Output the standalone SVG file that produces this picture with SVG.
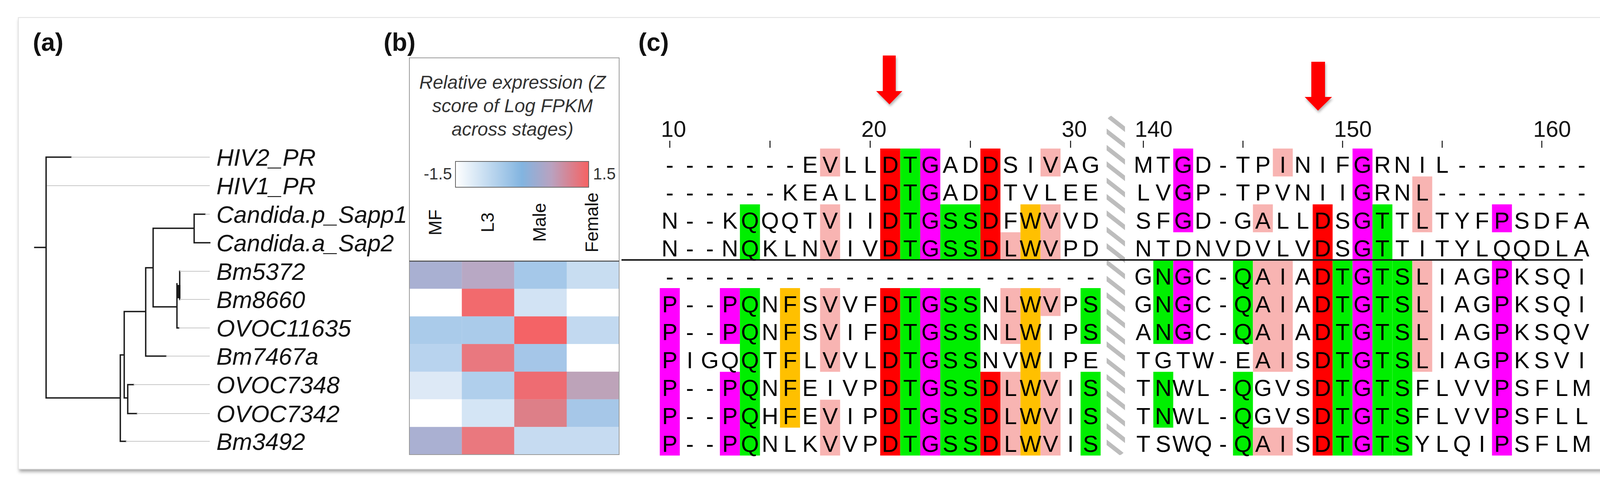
<svg xmlns="http://www.w3.org/2000/svg" width="4173" height="1251" viewBox="0 0 4173 1251">
<defs>
<style>
text{font-family:"Liberation Sans",Arial,sans-serif}
.pl{font-size:64px;font-weight:bold;fill:#111}
.tl{font-size:61px;font-style:italic;fill:#111}
.aa{font-size:59px;text-anchor:middle;fill:#000}
.num{font-size:58px;fill:#111}
.lg{font-size:48px;font-style:italic;fill:#333;text-anchor:middle}
.cb{font-size:42px;fill:#333}
.col{font-size:46px;fill:#111;text-anchor:middle}
.br{stroke:#1a1a1a;stroke-width:3.5;fill:none;stroke-linecap:square}
.gr{stroke:#c8c8c8;stroke-width:2;fill:none}
.tk{stroke:#111;stroke-width:2.5}
.R{fill:#ff0000}.G{fill:#00ef00}.M{fill:#ff00ff}.P{fill:#f8b4b2}.O{fill:#ffc000}
</style>
<filter id="sh" x="-5%" y="-5%" width="110%" height="112%">
<feDropShadow dx="3" dy="6" stdDeviation="4" flood-color="#000" flood-opacity="0.35"/>
</filter>
<filter id="ash" x="-40%" y="-20%" width="180%" height="160%">
<feDropShadow dx="2" dy="5" stdDeviation="3" flood-color="#000" flood-opacity="0.3"/>
</filter>
<linearGradient id="zg" x1="0" y1="0" x2="1" y2="0">
<stop offset="0" stop-color="#ffffff"/>
<stop offset="0.5" stop-color="#82b4e0"/>
<stop offset="0.72" stop-color="#b9a2c0"/>
<stop offset="1" stop-color="#f66262"/>
</linearGradient>
<pattern id="hatch" patternUnits="userSpaceOnUse" width="60" height="33" patternTransform="rotate(38)">
<rect x="0" y="0" width="60" height="11" fill="#bdbdbd"/>
</pattern>
</defs>

<rect x="0" y="0" width="4173" height="1251" fill="#ffffff"/>
<rect x="47" y="45" width="4080" height="1155" fill="#ffffff" stroke="#e2e2e2" stroke-width="2" filter="url(#sh)"/>

<g id="panel-labels">
<text class="pl" x="84" y="130">(a)</text>
<text class="pl" x="982" y="130">(b)</text>
<text class="pl" x="1634" y="130">(c)</text>
</g>

<g id="tree-connectors">
<path class="br" d="M89,633H118M118,402V1018M118,402H182M118,1018H308M308,908V1129M308,1129H322M308,908H318M318,797V1018M318,1018H327M327,984V1058M327,984H342M327,1058H350M318,797H373M373,685V911M373,911H425M373,685H392M392,584V785M392,584H497M497,548V621M497,548H525M497,621H537M392,785H453M453,726V839M453,839H458M460,694V766"/>
<rect x="453" y="729" width="9" height="34" fill="#1a1a1a"/>
<path class="gr" d="M182,402H537M120,475H537M525,548H537M460,694H537M460,766H537M458,839H537M425,911H537M342,984H537M350,1058H537M322,1129H537"/>
</g>

<g id="tree-labels">
<g id="t-HIV2_PR"><text class="tl" x="554" y="424">HIV2_PR</text></g>
<g id="t-HIV1_PR"><text class="tl" x="554" y="497">HIV1_PR</text></g>
<g id="t-Candida-p"><text class="tl" x="554" y="570">Candida.p_Sapp1</text></g>
<g id="t-Candida-a"><text class="tl" x="554" y="643">Candida.a_Sap2</text></g>
<g id="t-Bm5372"><text class="tl" x="554" y="716">Bm5372</text></g>
<g id="t-Bm8660"><text class="tl" x="554" y="788">Bm8660</text></g>
<g id="t-OVOC11635"><text class="tl" x="554" y="861">OVOC11635</text></g>
<g id="t-Bm7467a"><text class="tl" x="554" y="933">Bm7467a</text></g>
<g id="t-OVOC7348"><text class="tl" x="554" y="1006">OVOC7348</text></g>
<g id="t-OVOC7342"><text class="tl" x="554" y="1080">OVOC7342</text></g>
<g id="t-Bm3492"><text class="tl" x="554" y="1151">Bm3492</text></g>
</g>

<g id="heatmap">
<g id="heatmap-legend">
<text class="lg" x="1312" y="227">Relative expression (Z</text>
<text class="lg" x="1312" y="287">score of Log FPKM</text>
<text class="lg" x="1312" y="347">across stages)</text>
<rect x="1166" y="413" width="341" height="66" fill="url(#zg)" stroke="#666" stroke-width="2"/>
<text class="cb" x="1157" y="459" text-anchor="end">-1.5</text>
<text class="cb" x="1518" y="459">1.5</text>
<text class="col" transform="translate(1130,569) rotate(-90)">MF</text>
<text class="col" transform="translate(1264,569) rotate(-90)">L3</text>
<text class="col" transform="translate(1397,569) rotate(-90)">Male</text>
<text class="col" transform="translate(1531,569) rotate(-90)">Female</text>
</g>
<g id="heatmap-cells">
<rect x="1048" y="668" width="134.5" height="71" fill="#a9b0d2"/>
<rect x="1182.25" y="668" width="134.5" height="71" fill="#b8a8c4"/>
<rect x="1316.5" y="668" width="134.5" height="71" fill="#a5c8e9"/>
<rect x="1450.75" y="668" width="134.25" height="71" fill="#c8ddf1"/>
<rect x="1048" y="738.7" width="134.5" height="71" fill="#ffffff"/>
<rect x="1182.25" y="738.7" width="134.5" height="71" fill="#f26a6d"/>
<rect x="1316.5" y="738.7" width="134.5" height="71" fill="#d2e3f4"/>
<rect x="1450.75" y="738.7" width="134.25" height="71" fill="#ffffff"/>
<rect x="1048" y="809.4" width="134.5" height="71" fill="#aacbea"/>
<rect x="1182.25" y="809.4" width="134.5" height="71" fill="#aacbea"/>
<rect x="1316.5" y="809.4" width="134.5" height="71" fill="#f46366"/>
<rect x="1450.75" y="809.4" width="134.25" height="71" fill="#c2d9f0"/>
<rect x="1048" y="880.1" width="134.5" height="71" fill="#b8d3ee"/>
<rect x="1182.25" y="880.1" width="134.5" height="71" fill="#e9787f"/>
<rect x="1316.5" y="880.1" width="134.5" height="71" fill="#a5c6e8"/>
<rect x="1450.75" y="880.1" width="134.25" height="71" fill="#ffffff"/>
<rect x="1048" y="950.8" width="134.5" height="71" fill="#dde9f6"/>
<rect x="1182.25" y="950.8" width="134.5" height="71" fill="#b0cfec"/>
<rect x="1316.5" y="950.8" width="134.5" height="71" fill="#ee6c72"/>
<rect x="1450.75" y="950.8" width="134.25" height="71" fill="#bda3b9"/>
<rect x="1048" y="1021.5" width="134.5" height="71" fill="#ffffff"/>
<rect x="1182.25" y="1021.5" width="134.5" height="71" fill="#d4e5f5"/>
<rect x="1316.5" y="1021.5" width="134.5" height="71" fill="#dd7f88"/>
<rect x="1450.75" y="1021.5" width="134.25" height="71" fill="#a6c7e8"/>
<rect x="1048" y="1092.2" width="134.5" height="70.7" fill="#aab0d2"/>
<rect x="1182.25" y="1092.2" width="134.5" height="70.7" fill="#ea787e"/>
<rect x="1316.5" y="1092.2" width="134.5" height="70.7" fill="#c6dbf1"/>
<rect x="1450.75" y="1092.2" width="134.25" height="70.7" fill="#c6dbf1"/>
</g>
<rect x="1048" y="148" width="537" height="1015" fill="none" stroke="#9a9a9a" stroke-width="2"/>
<line x1="1048" y1="668" x2="1585" y2="668" stroke="#444" stroke-width="2.5"/>
</g>

<g id="alignment">
<g id="arrows" filter="url(#ash)">
<path d="M2260,142H2293V233H2310L2277,267L2243,233H2260Z" fill="#ff0000"/>
<path d="M3357,158H3392V248H3410L3374,283L3340,248H3357Z" fill="#ff0000"/>
</g>
<g id="positions">
<text class="num" x="1692" y="350">10</text>
<text class="num" x="2205" y="350">20</text>
<text class="num" x="2718" y="350">30</text>
<text class="num" x="2905" y="350">140</text>
<text class="num" x="3415" y="350">150</text>
<text class="num" x="3925" y="350">160</text>
<path class="tk" d="M1714.7,360V378M1971.2,360V378M2227.7,360V378M2484.2,360V378M2740.7,360V378M2927,360V378M3182,360V378M3437,360V378M3692,360V378M3947,360V378"/>
</g>
<g id="hatched-gap">
<rect x="2833" y="295" width="47" height="870" rx="18" fill="url(#hatch)"/>
</g>
<g id="highlights-left">
<rect class="M" x="1689" y="737" width="51.3" height="428.4"/>
<rect class="M" x="1842.9" y="737" width="51.3" height="142.8"/>
<rect class="M" x="1842.9" y="951.2" width="51.3" height="214.2"/>
<rect class="G" x="1894.2" y="522.8" width="51.3" height="142.8"/>
<rect class="G" x="1894.2" y="737" width="51.3" height="428.4"/>
<rect class="O" x="1996.8" y="737" width="51.3" height="357"/>
<rect class="P" x="2099.4" y="380" width="51.3" height="71.4"/>
<rect class="P" x="2099.4" y="522.8" width="51.3" height="142.8"/>
<rect class="P" x="2099.4" y="737" width="51.3" height="214.2"/>
<rect class="P" x="2099.4" y="1022.6" width="51.3" height="142.8"/>
<rect class="R" x="2253.3" y="380" width="51.3" height="285.6"/>
<rect class="R" x="2253.3" y="737" width="51.3" height="428.4"/>
<rect class="G" x="2304.6" y="380" width="51.3" height="285.6"/>
<rect class="G" x="2304.6" y="737" width="51.3" height="428.4"/>
<rect class="M" x="2355.9" y="380" width="51.3" height="285.6"/>
<rect class="M" x="2355.9" y="737" width="51.3" height="428.4"/>
<rect class="G" x="2407.2" y="522.8" width="102.6" height="142.8"/>
<rect class="G" x="2407.2" y="737" width="102.6" height="428.4"/>
<rect class="R" x="2509.8" y="380" width="51.3" height="285.6"/>
<rect class="R" x="2509.8" y="951.2" width="51.3" height="214.2"/>
<rect class="P" x="2561.1" y="594.2" width="51.3" height="71.4"/>
<rect class="P" x="2561.1" y="737" width="51.3" height="142.8"/>
<rect class="P" x="2561.1" y="951.2" width="51.3" height="214.2"/>
<rect class="O" x="2612.4" y="522.8" width="51.3" height="142.8"/>
<rect class="O" x="2612.4" y="737" width="51.3" height="428.4"/>
<rect class="P" x="2663.7" y="380" width="51.3" height="71.4"/>
<rect class="P" x="2663.7" y="522.8" width="51.3" height="142.8"/>
<rect class="P" x="2663.7" y="737" width="51.3" height="71.4"/>
<rect class="P" x="2663.7" y="951.2" width="51.3" height="214.2"/>
<rect class="G" x="2766.3" y="737" width="51.3" height="142.8"/>
<rect class="G" x="2766.3" y="951.2" width="51.3" height="214.2"/>
</g>
<g id="highlights-right">
<rect class="G" x="2952.5" y="665.6" width="51" height="214.2"/>
<rect class="G" x="2952.5" y="951.2" width="51" height="142.8"/>
<rect class="M" x="3003.5" y="380" width="51" height="214.2"/>
<rect class="M" x="3003.5" y="665.6" width="51" height="214.2"/>
<rect class="G" x="3156.5" y="665.6" width="51" height="214.2"/>
<rect class="G" x="3156.5" y="951.2" width="51" height="214.2"/>
<rect class="P" x="3207.5" y="522.8" width="51" height="71.4"/>
<rect class="P" x="3258.5" y="380" width="51" height="71.4"/>
<rect class="P" x="3207.5" y="665.6" width="102" height="285.6"/>
<rect class="P" x="3207.5" y="1094" width="102" height="71.4"/>
<rect class="R" x="3360.5" y="522.8" width="51" height="642.6"/>
<rect class="G" x="3411.5" y="665.6" width="51" height="499.8"/>
<rect class="M" x="3462.5" y="380" width="51" height="785.4"/>
<rect class="G" x="3513.5" y="522.8" width="51" height="642.6"/>
<rect class="G" x="3564.5" y="665.6" width="51" height="499.8"/>
<rect class="P" x="3615.5" y="451.4" width="51" height="142.8"/>
<rect class="P" x="3615.5" y="665.6" width="51" height="285.6"/>
<rect class="M" x="3819.5" y="522.8" width="51" height="71.4"/>
<rect class="M" x="3819.5" y="665.6" width="51" height="499.8"/>
</g>
<line id="group-separator" x1="1591" y1="665" x2="4052" y2="665" stroke="#1a1a1a" stroke-width="4"/>
<g id="sequences-left">
<text class="aa" y="442" x="1714.7 1766 1817.3 1868.6 1919.9 1971.2 2022.5 2073.8 2125.1 2176.4 2227.7 2279 2330.3 2381.6 2432.9 2484.2 2535.5 2586.8 2638.1 2689.4 2740.7 2792">-------EVLLDTGADDSIVAG</text>
<text class="aa" y="513.4" x="1714.7 1766 1817.3 1868.6 1919.9 1971.2 2022.5 2073.8 2125.1 2176.4 2227.7 2279 2330.3 2381.6 2432.9 2484.2 2535.5 2586.8 2638.1 2689.4 2740.7 2792">------KEALLDTGADDTVLEE</text>
<text class="aa" y="584.8" x="1714.7 1766 1817.3 1868.6 1919.9 1971.2 2022.5 2073.8 2125.1 2176.4 2227.7 2279 2330.3 2381.6 2432.9 2484.2 2535.5 2586.8 2638.1 2689.4 2740.7 2792">N--KQQQTVIIDTGSSDFWVVD</text>
<text class="aa" y="656.2" x="1714.7 1766 1817.3 1868.6 1919.9 1971.2 2022.5 2073.8 2125.1 2176.4 2227.7 2279 2330.3 2381.6 2432.9 2484.2 2535.5 2586.8 2638.1 2689.4 2740.7 2792">N--NQKLNVIVDTGSSDLWVPD</text>
<text class="aa" y="727.6" x="1714.7 1766 1817.3 1868.6 1919.9 1971.2 2022.5 2073.8 2125.1 2176.4 2227.7 2279 2330.3 2381.6 2432.9 2484.2 2535.5 2586.8 2638.1 2689.4 2740.7 2792">----------------------</text>
<text class="aa" y="799" x="1714.7 1766 1817.3 1868.6 1919.9 1971.2 2022.5 2073.8 2125.1 2176.4 2227.7 2279 2330.3 2381.6 2432.9 2484.2 2535.5 2586.8 2638.1 2689.4 2740.7 2792">P--PQNFSVVFDTGSSNLWVPS</text>
<text class="aa" y="870.4" x="1714.7 1766 1817.3 1868.6 1919.9 1971.2 2022.5 2073.8 2125.1 2176.4 2227.7 2279 2330.3 2381.6 2432.9 2484.2 2535.5 2586.8 2638.1 2689.4 2740.7 2792">P--PQNFSVIFDTGSSNLWIPS</text>
<text class="aa" y="941.8" x="1714.7 1766 1817.3 1868.6 1919.9 1971.2 2022.5 2073.8 2125.1 2176.4 2227.7 2279 2330.3 2381.6 2432.9 2484.2 2535.5 2586.8 2638.1 2689.4 2740.7 2792">PIGQQTFLVVLDTGSSNVWIPE</text>
<text class="aa" y="1013.2" x="1714.7 1766 1817.3 1868.6 1919.9 1971.2 2022.5 2073.8 2125.1 2176.4 2227.7 2279 2330.3 2381.6 2432.9 2484.2 2535.5 2586.8 2638.1 2689.4 2740.7 2792">P--PQNFEIVPDTGSSDLWVIS</text>
<text class="aa" y="1084.6" x="1714.7 1766 1817.3 1868.6 1919.9 1971.2 2022.5 2073.8 2125.1 2176.4 2227.7 2279 2330.3 2381.6 2432.9 2484.2 2535.5 2586.8 2638.1 2689.4 2740.7 2792">P--PQHFEVIPDTGSSDLWVIS</text>
<text class="aa" y="1156" x="1714.7 1766 1817.3 1868.6 1919.9 1971.2 2022.5 2073.8 2125.1 2176.4 2227.7 2279 2330.3 2381.6 2432.9 2484.2 2535.5 2586.8 2638.1 2689.4 2740.7 2792">P--PQNLKVVPDTGSSDLWVIS</text>
</g>
<g id="sequences-right">
<text class="aa" y="442" x="2927 2978 3029 3080 3131 3182 3233 3284 3335 3386 3437 3488 3539 3590 3641 3692 3743 3794 3845 3896 3947 3998 4049">MTGD-TPINIFGRNIL-------</text>
<text class="aa" y="513.4" x="2927 2978 3029 3080 3131 3182 3233 3284 3335 3386 3437 3488 3539 3590 3641 3692 3743 3794 3845 3896 3947 3998 4049">LVGP-TPVNIIGRNL--------</text>
<text class="aa" y="584.8" x="2927 2978 3029 3080 3131 3182 3233 3284 3335 3386 3437 3488 3539 3590 3641 3692 3743 3794 3845 3896 3947 3998 4049">SFGD-GALLDSGTTLTYFPSDFA</text>
<text class="aa" y="656.2" x="2927 2978 3029 3080 3131 3182 3233 3284 3335 3386 3437 3488 3539 3590 3641 3692 3743 3794 3845 3896 3947 3998 4049">NTDNVDVLVDSGTTITYLQQDLA</text>
<text class="aa" y="727.6" x="2927 2978 3029 3080 3131 3182 3233 3284 3335 3386 3437 3488 3539 3590 3641 3692 3743 3794 3845 3896 3947 3998 4049">GNGC-QAIADTGTSLIAGPKSQI</text>
<text class="aa" y="799" x="2927 2978 3029 3080 3131 3182 3233 3284 3335 3386 3437 3488 3539 3590 3641 3692 3743 3794 3845 3896 3947 3998 4049">GNGC-QAIADTGTSLIAGPKSQI</text>
<text class="aa" y="870.4" x="2927 2978 3029 3080 3131 3182 3233 3284 3335 3386 3437 3488 3539 3590 3641 3692 3743 3794 3845 3896 3947 3998 4049">ANGC-QAIADTGTSLIAGPKSQV</text>
<text class="aa" y="941.8" x="2927 2978 3029 3080 3131 3182 3233 3284 3335 3386 3437 3488 3539 3590 3641 3692 3743 3794 3845 3896 3947 3998 4049">TGTW-EAISDTGTSLIAGPKSVI</text>
<text class="aa" y="1013.2" x="2927 2978 3029 3080 3131 3182 3233 3284 3335 3386 3437 3488 3539 3590 3641 3692 3743 3794 3845 3896 3947 3998 4049">TNWL-QGVSDTGTSFLVVPSFLM</text>
<text class="aa" y="1084.6" x="2927 2978 3029 3080 3131 3182 3233 3284 3335 3386 3437 3488 3539 3590 3641 3692 3743 3794 3845 3896 3947 3998 4049">TNWL-QGVSDTGTSFLVVPSFLL</text>
<text class="aa" y="1156" x="2927 2978 3029 3080 3131 3182 3233 3284 3335 3386 3437 3488 3539 3590 3641 3692 3743 3794 3845 3896 3947 3998 4049">TSWQ-QAISDTGTSYLQIPSFLM</text>
</g>
</g>
</svg>
